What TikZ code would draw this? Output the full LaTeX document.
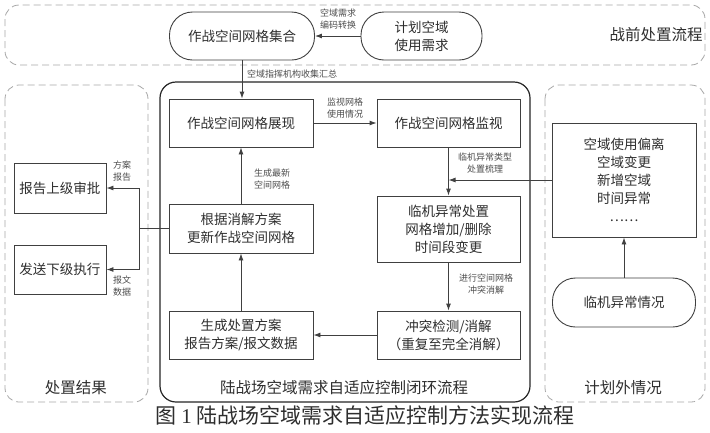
\documentclass[tikz,border=0pt]{standalone}
\usepackage{fontspec}
\setmainfont{Liberation Serif}
\newfontfamily\cjk{Noto Sans CJK SC}
\newfontfamily\lat{Liberation Serif}
\usetikzlibrary{arrows.meta}
\definecolor{lncol}{HTML}{404040}
\definecolor{dshcol}{HTML}{A8A8A8}
\definecolor{txcol}{HTML}{2E2E2E}
\tikzset{
  boxs/.style={draw=lncol, line width=0.9pt, minimum width=144pt, minimum height=48pt, inner sep=2pt, align=center, text=txcol, font=\cjk\fontsize{13.5}{18}\selectfont},
  pill/.style={boxs, rounded corners=23pt},
  lbl/.style={text=txcol!85, align=center, font=\cjk\fontsize{9}{11.5}\selectfont, inner sep=0pt},
  region/.style={draw=dshcol, line width=0.8pt, dash pattern=on 7pt off 4pt, rounded corners=14pt},
  rlbl/.style={text=txcol, inner sep=0pt, font=\cjk\fontsize{15.5}{18}\selectfont},
  arr/.style={draw=lncol, line width=0.9pt, -{Latex[length=7pt,width=5pt]}},
  plain/.style={draw=lncol, line width=0.9pt}
}
\begin{document}
\begin{tikzpicture}[x=1pt,y=-1pt]
\useasboundingbox (0,0) rectangle (710,432);
\fill[white] (0,0) rectangle (710,432);
% regions
\draw[region] (5,5) rectangle (705,65);
\draw[region] (5,85) rectangle (148,402);
\draw[region] (545,85) rectangle (705,402);
\draw[draw=black!85, line width=1.2pt, rounded corners=16pt] (160,82) rectangle (530,402);
\node[rlbl] (rtop) at (656,35) {战前处置流程};
\node[rlbl] (rleft) at (76,388) {处置结果};
\node[rlbl] (rmain) at (344,388) {陆战场空域需求自适应控制闭环流程};
\node[rlbl] (rright) at (623,388) {计划外情况};
% top
\node[pill, minimum width=145pt] (jihe) at (242,36) {作战空间网格集合};
\node[pill, minimum width=121pt] (xuqiu) at (421.5,36) {计划空域\\使用需求};
% main loop
\node[boxs, minimum width=144pt] (zhanxian) at (241,123) {作战空间网格展现};
\node[boxs, minimum width=143pt] (jianshi) at (448.5,123) {作战空间网格监视};
\node[boxs, minimum width=143pt, minimum height=66pt] (chuzhi) at (448.5,229) {临机异常处置\\网格增加/删除\\时间段变更};
\node[boxs, minimum width=143pt] (chongtu) at (448.5,335) {冲突检测/消解\\（重复至完全消解）};
\node[boxs, minimum width=144pt] (shengcheng) at (241,335) {生成处置方案\\报告方案/报文数据};
\node[boxs, minimum width=144pt, minimum height=49pt] (gengxin) at (241,228.5) {根据消解方案\\更新作战空间网格};
% left
\node[boxs, minimum width=92pt, minimum height=50pt] (shangji) at (60,188) {报告上级审批};
\node[boxs, minimum width=92pt, minimum height=49pt] (xiaji) at (60,269.5) {发送下级执行};
% right
\node[boxs, minimum width=144pt, minimum height=114pt] (pianli) at (624,180) {空域使用偏离\\空域变更\\新增空域\\时间异常\\……};
\node[pill, minimum width=143pt, minimum height=49pt] (linji) at (624,302.5) {临机异常情况};
% connectors
\draw[arr] (xuqiu.west) -- (jihe.east);
\node[lbl] (l1) at (338,19) {空域需求\\编码转换};
\draw[arr] (jihe.south) -- (jihe.south |- zhanxian.north);
\node[lbl, anchor=west] (l2) at (247,74) {空域指挥机构收集汇总};
\draw[arr] (zhanxian.east) -- (jianshi.west);
\node[lbl] (l3) at (345,108) {监视网格\\使用情况};
\draw[arr] (jianshi.south) -- (chuzhi.north);
\node[lbl] (l4) at (485,163) {临机异常类型\\处置梳理};
\draw[arr] (pianli.west) -- (pianli.west -| chuzhi.north);
\draw[arr] (linji.north) -- (linji.north |- pianli.south);
\draw[arr] (chuzhi.south) -- (chongtu.north);
\node[lbl] (l5) at (486,284) {进行空间网格\\冲突消解};
\draw[arr] (chongtu.west) -- (shengcheng.east);
\draw[arr] (shengcheng.north) -- (gengxin.south);
\draw[arr] (gengxin.north) -- (zhanxian.south);
\node[lbl] (l6) at (272,179) {生成最新\\空间网格};
\draw[plain] (gengxin.west) -- (139,228.5) coordinate (jn);
\draw[arr] (jn) |- (shangji.east);
\draw[arr] (jn) |- (xiaji.east);
\node[lbl] (l7) at (122,171) {方案\\报告};
\node[lbl] (l8) at (122,286) {报文\\数据};
% caption
\node[inner sep=0pt, text=txcol, font=\cjk\fontsize{21}{24}\selectfont] (cap) at (365,416) {图 {\lat 1} 陆战场空域需求自适应控制方法实现流程};
\end{tikzpicture}
\end{document}
